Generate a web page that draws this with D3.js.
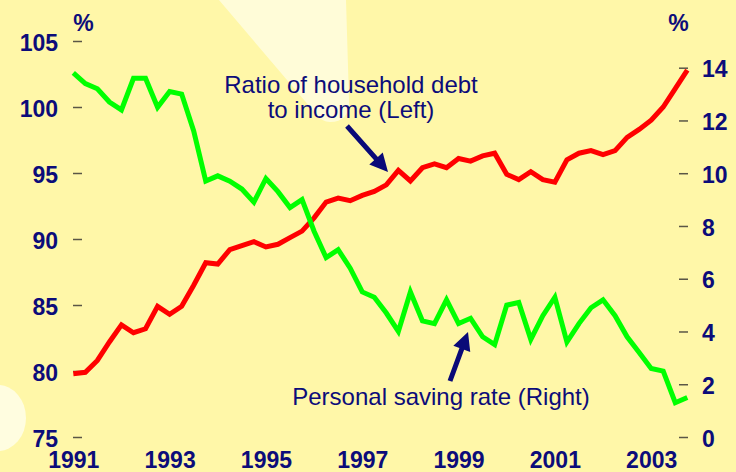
<!DOCTYPE html>
<html lang="en">
<head>
	<meta charset="UTF-8">
	<title>Household debt and saving</title>
	<script src="https://cdn.jsdelivr.net/npm/d3@7/dist/d3.min.js"></script>
	<style>
	body {
		margin: 0;
		background-color: #fff7a8;
	}
	svg text {
		font-family: "Liberation Sans", Arial, sans-serif;
		fill: #0c0c7a;
	}
	.tick-label {
		font-size: 23px;
		font-weight: bold;
	}
	.note {
		font-size: 24px;
	}
	</style>
</head>
<body>
<div id="chart"></div>

<script>
	var quarters = [
		'1991Q1', '1991Q2', '1991Q3', '1991Q4', '1992Q1', '1992Q2', '1992Q3', '1992Q4',
		'1993Q1', '1993Q2', '1993Q3', '1993Q4', '1994Q1', '1994Q2', '1994Q3', '1994Q4',
		'1995Q1', '1995Q2', '1995Q3', '1995Q4', '1996Q1', '1996Q2', '1996Q3', '1996Q4',
		'1997Q1', '1997Q2', '1997Q3', '1997Q4', '1998Q1', '1998Q2', '1998Q3', '1998Q4',
		'1999Q1', '1999Q2', '1999Q3', '1999Q4', '2000Q1', '2000Q2', '2000Q3', '2000Q4',
		'2001Q1', '2001Q2', '2001Q3', '2001Q4', '2002Q1', '2002Q2', '2002Q3', '2002Q4',
		'2003Q1', '2003Q2', '2003Q3', '2003Q4'
	];

	// household debt to disposable income, % (left axis)
	var debtRatio = [
		79.8, 79.9, 80.8, 82.2, 83.5, 82.9, 83.2, 84.9,
		84.3, 84.9, 86.5, 88.2, 88.1, 89.2, 89.5, 89.8,
		89.4, 89.6, 90.1, 90.6, 91.6, 92.8, 93.1, 92.9,
		93.3, 93.6, 94.1, 95.2, 94.4, 95.4, 95.7, 95.4,
		96.1, 95.9, 96.3, 96.5, 94.9, 94.5, 95.1, 94.5,
		94.3, 96.0, 96.5, 96.7, 96.4, 96.7, 97.7, 98.3,
		99.0, 100.0, 101.4, 102.8
	];

	// personal saving rate, % (right axis)
	var savingRate = [
		13.8, 13.4, 13.2, 12.7, 12.4, 13.6, 13.6, 12.5,
		13.1, 13.0, 11.6, 9.7, 9.9, 9.7, 9.4, 8.9,
		9.8, 9.3, 8.7, 9.0, 7.8, 6.8, 7.1, 6.4,
		5.5, 5.3, 4.7, 4.0, 5.5, 4.4, 4.3, 5.2,
		4.3, 4.5, 3.8, 3.5, 5.0, 5.1, 3.7, 4.6,
		5.3, 3.6, 4.3, 4.9, 5.2, 4.6, 3.8, 3.2,
		2.6, 2.5, 1.3, 1.5
	];

	var yearTicks = [1991, 1993, 1995, 1997, 1999, 2001, 2003];
	var leftTicks = [75, 80, 85, 90, 95, 100, 105];
	var rightTicks = [0, 2, 4, 6, 8, 10, 12, 14];

	var width = 736, height = 472;
	var plot = {left: 73.3, right: 687.3, top: 41, bottom: 437};

	function quarterTime(q) {
		return +q.slice(0, 4) + (+q.slice(5) - 1) / 4;
	}

	var svg = d3.select('#chart')
		.append('svg')
		.attr('width', width)
		.attr('height', height);

	svg.append('rect')
		.attr('width', width)
		.attr('height', height)
		.attr('fill', '#fff7a8');

	// pale light shapes in the background
	svg.append('path')
		.attr('d', 'M219,0 L346,0 L349,100 Q350,122 330,122 Q322,122 316,114 Z')
		.attr('fill', '#fffcd8');

	svg.append('ellipse')
		.attr('cx', -2)
		.attr('cy', 418)
		.attr('rx', 28)
		.attr('ry', 33)
		.attr('fill', '#fffde0');

	var x = d3.scaleLinear()
		.domain([quarterTime(quarters[0]), quarterTime(quarters[quarters.length - 1])])
		.range([plot.left, plot.right]);

	var yLeft = d3.scaleLinear()
		.domain([75, 105])
		.range([plot.bottom, plot.top]);

	var yRight = d3.scaleLinear()
		.domain([0, 14])
		.range([plot.bottom, 67.7]);

	var leftAxis = d3.axisLeft(yLeft)
		.tickValues(leftTicks)
		.tickSize(-9)
		.tickPadding(15);

	var rightAxis = d3.axisRight(yRight)
		.tickValues(rightTicks)
		.tickSize(-9)
		.tickPadding(14);

	var bottomAxis = d3.axisBottom(x)
		.tickValues(yearTicks)
		.tickFormat(d3.format('d'))
		.tickSize(0)
		.tickPadding(15);

	function styleAxis(g) {
		g.select('.domain').remove();
		g.selectAll('.tick line')
			.attr('stroke', '#5a5646')
			.attr('stroke-width', 1.5);
		g.selectAll('.tick text')
			.attr('class', 'tick-label')
			.attr('fill', '#0c0c7a');
	}

	svg.append('g')
		.attr('transform', 'translate(' + 73 + ',0)')
		.call(leftAxis)
		.call(styleAxis)
		.selectAll('text').attr('dy', '0.4em');

	svg.append('g')
		.attr('transform', 'translate(' + 688 + ',0)')
		.call(rightAxis)
		.call(styleAxis)
		.selectAll('text').attr('dy', '0.4em');

	svg.append('g')
		.attr('transform', 'translate(0,' + plot.bottom + ')')
		.call(bottomAxis)
		.call(styleAxis);

	svg.append('text')
		.attr('class', 'tick-label')
		.attr('x', 83.5)
		.attr('y', 31)
		.attr('text-anchor', 'middle')
		.text('%');

	svg.append('text')
		.attr('class', 'tick-label')
		.attr('x', 678.5)
		.attr('y', 31)
		.attr('text-anchor', 'middle')
		.text('%');

	var debtLine = d3.line()
		.x(function (d, i) { return x(quarterTime(quarters[i])); })
		.y(function (d) { return yLeft(d); });

	var savingLine = d3.line()
		.x(function (d, i) { return x(quarterTime(quarters[i])); })
		.y(function (d) { return yRight(d); });

	svg.append('path')
		.datum(debtRatio)
		.attr('d', debtLine)
		.attr('fill', 'none')
		.attr('stroke', '#ff0000')
		.attr('stroke-width', 5)
		.attr('stroke-linejoin', 'miter');

	svg.append('path')
		.datum(savingRate)
		.attr('d', savingLine)
		.attr('fill', 'none')
		.attr('stroke', '#00ff00')
		.attr('stroke-width', 5)
		.attr('stroke-linejoin', 'miter');

	// labels and arrows
	var note1 = svg.append('text')
		.attr('class', 'note')
		.attr('text-anchor', 'middle')
		.attr('x', 351)
		.attr('y', 93);
	note1.append('tspan').attr('x', 351).text('Ratio of household debt');
	note1.append('tspan').attr('x', 351).attr('dy', 25).text('to income (Left)');

	svg.append('text')
		.attr('class', 'note')
		.attr('text-anchor', 'middle')
		.attr('x', 441)
		.attr('y', 405)
		.text('Personal saving rate (Right)');

	function arrow(x1, y1, x2, y2) {
		var dx = x2 - x1, dy = y2 - y1;
		var len = Math.sqrt(dx * dx + dy * dy);
		var ux = dx / len, uy = dy / len;
		var px = -uy, py = ux;
		var head = 18, hw = 9, sw = 2.5;
		var bx = x2 - ux * head, by = y2 - uy * head;
		var pts = [
			[x1 + px * sw, y1 + py * sw],
			[bx + px * sw, by + py * sw],
			[bx + px * hw, by + py * hw],
			[x2, y2],
			[bx - px * hw, by - py * hw],
			[bx - px * sw, by - py * sw],
			[x1 - px * sw, y1 - py * sw]
		];
		svg.append('path')
			.attr('d', 'M' + pts.join('L') + 'Z')
			.attr('fill', '#0a0a78');
	}

	arrow(347, 126, 388, 172);
	arrow(450, 381, 468, 332);
</script>
</body>
</html>
